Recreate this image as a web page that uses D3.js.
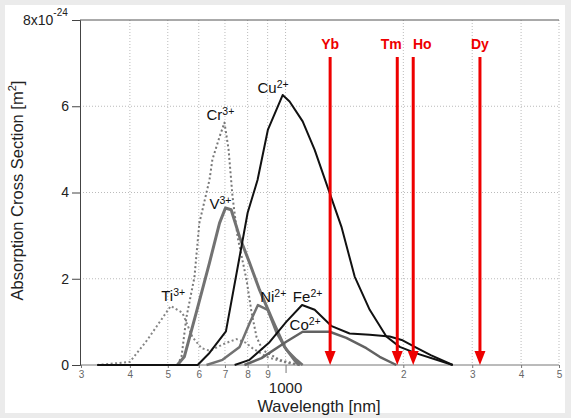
<!DOCTYPE html>
<html>
<head>
<meta charset="utf-8">
<script src="https://cdn.jsdelivr.net/npm/d3@7"></script>
<style>
  body { margin: 0; background: #ebebeb; }
  svg { display: block; font-family: "Liberation Sans", Arial, sans-serif; }
</style>
</head>
<body>
<div id="chart"></div>
<script>
// chart size
const width = 571, height = 418;

// data (wavelength in nm, cross section in 1e-24 m^2)
const tiWl  = [330, 400, 443, 509, 545, 578, 610, 640, 700, 749, 790, 823, 894, 1006, 1090];
const tiVal = [0, 0.07, 0.58, 1.37, 1.21, 0.65, 0.39, 0.33, 0.5, 0.6, 0.52, 0.39, 0.19, 0.05, 0];

const crWl  = [529, 542, 558, 585, 602, 639, 650, 678, 698, 715, 732, 754, 795, 819, 843, 873, 965, 1086];
const crVal = [0, 0.19, 1.11, 2.04, 3.29, 4.29, 4.76, 5.29, 5.62, 5.0, 3.9, 2.97, 1.97, 1.21, 0.65, 0.35, 0.12, 0];

const vWl   = [529, 551, 591, 639, 678, 702, 726, 763, 809, 858, 926, 994, 1067, 1088];
const vVal  = [0, 0.19, 1.21, 2.37, 3.29, 3.64, 3.6, 2.97, 2.37, 1.74, 1.04, 0.42, 0.05, 0];

const niWl  = [628, 690, 763, 809, 850, 900, 949, 1006, 1067, 1106];
const niVal = [0, 0.12, 0.42, 0.97, 1.39, 1.28, 0.74, 0.35, 0.12, 0];

const coWl  = [785, 868, 1004, 1106, 1296, 1430, 1609, 1740, 1920];
const coVal = [0, 0.16, 0.54, 0.77, 0.77, 0.63, 0.39, 0.19, 0];

const feWl  = [741, 809, 910, 1004, 1102, 1187, 1312, 1458, 1641, 1846, 1981, 2139, 2350, 2675];
const feVal = [0, 0.12, 0.53, 1.0, 1.39, 1.28, 0.9, 0.73, 0.7, 0.66, 0.58, 0.42, 0.23, 0];

const cuWl  = [330, 596, 639, 704, 763, 800, 848, 901, 983, 1024, 1106, 1187, 1296, 1389, 1502, 1641, 1810, 1958, 2160, 2431, 2675];
const cuVal = [0, 0, 0.28, 0.78, 2.51, 3.53, 4.29, 5.45, 6.26, 6.11, 5.65, 4.99, 3.99, 3.21, 2.05, 1.28, 0.66, 0.42, 0.27, 0.12, 0];

// rare earth laser lines
const laserWl    = [1300, 1930, 2120, 3140];
const laserNames = ["Yb", "Tm", "Ho", "Dy"];

// axis ticks
const xTicks      = [300, 400, 500, 600, 700, 800, 900, 1000, 2000, 3000, 4000, 5000];
const xTickLabels = ["3", "4", "5", "6", "7", "8", "9", "", "2", "3", "4", "5"];
const yTicks      = [0, 2, 4, 6, 8];

// ion labels: name, charge, anchor point (wavelength, value) of the label's left baseline
const ionNames   = ["Cu", "Cr", "V", "Ti", "Ni", "Fe", "Co"];
const ionCharges = ["2+", "3+", "3+", "3+", "2+", "2+", "2+"];
const ionLabelWl = [848, 628, 639, 481, 861, 1044, 1024];
const ionLabelY  = [6.31, 5.67, 3.62, 1.49, 1.47, 1.47, 0.81];

const svg = d3.select("#chart").append("svg")
  .attr("width", width).attr("height", height);

svg.append("rect").attr("x", 5).attr("y", 5)
  .attr("width", 560).attr("height", 408).attr("fill", "#fff");

const x = d3.scaleLog().domain([300, 5000]).range([81, 559]);
const y = d3.scaleLinear().domain([0, 8]).range([365, 20]);

// grid
const grid = svg.append("g");
grid.selectAll(".vg").data(xTicks.slice(1)).enter().append("line")
  .attr("x1", d => x(d)).attr("x2", d => x(d))
  .attr("y1", y(8)).attr("y2", y(0))
  .attr("stroke", "#bbb").attr("stroke-width", 1).attr("stroke-dasharray", "1,2");
grid.selectAll(".hg").data([2, 4, 6]).enter().append("line")
  .attr("x1", 80).attr("x2", 559)
  .attr("y1", d => y(d)).attr("y2", d => y(d))
  .attr("stroke", "#bbb").attr("stroke-width", 1).attr("stroke-dasharray", "1,2");
svg.append("line").attr("x1", 80).attr("x2", 559).attr("y1", y(8)).attr("y2", y(8))
  .attr("stroke", "#555").attr("stroke-width", 1);

// x axis
const xAxis = d3.axisBottom(x).tickValues(xTicks)
  .tickSize(3).tickPadding(3)
  .tickFormat((d, i) => xTickLabels[i]);
const xAxisG = svg.append("g").attr("transform", `translate(0,${y(0)})`).call(xAxis);
xAxisG.select(".domain").attr("stroke", "#777").attr("d", "M80,0H559");
xAxisG.selectAll(".tick line").attr("stroke", "#777");
xAxisG.selectAll(".tick").filter(d => d === 1000).select("line").attr("y2", 8);
xAxisG.selectAll(".tick text").attr("fill", "#666").style("font-size", "10px")
  .style("font-family", "Liberation Sans, Arial, sans-serif");

svg.append("text").attr("x", x(1000)).attr("y", 393)
  .attr("text-anchor", "middle").style("font-size", "15px").attr("fill", "#222")
  .text("1000");
svg.append("text").attr("x", 319).attr("y", 412)
  .attr("text-anchor", "middle").style("font-size", "16.5px").attr("fill", "#222")
  .text("Wavelength [nm]");

// y axis
const yAxis = d3.axisLeft(y).tickValues(yTicks)
  .tickSize(8).tickPadding(3)
  .tickFormat(d => d === 8 ? "" : d);
const yAxisG = svg.append("g").attr("transform", "translate(80,0)").call(yAxis);
yAxisG.select(".domain").attr("stroke", "#444");
yAxisG.selectAll(".tick line").attr("stroke", "#444");
yAxisG.selectAll(".tick text").attr("fill", "#222").style("font-size", "14px")
  .style("font-family", "Liberation Sans, Arial, sans-serif");

const topLabel = svg.append("text").attr("x", 23).attr("y", 25)
  .style("font-size", "14px").attr("fill", "#222");
topLabel.append("tspan").text("8x10");
topLabel.append("tspan").attr("dy", -9).style("font-size", "10px").text("-24");

const yTitle = svg.append("text")
  .attr("transform", `translate(23,${y(4) - 2}) rotate(-90)`)
  .attr("text-anchor", "middle").style("font-size", "16.5px").attr("fill", "#222");
yTitle.append("tspan").text("Absorption Cross Section [m");
yTitle.append("tspan").attr("dy", -7).style("font-size", "11px").text("2");
yTitle.append("tspan").attr("dy", 7).text("]");

// curves
const line = d3.line().x(d => x(d[0])).y(d => y(d[1]));
const pts = (wl, val) => wl.map((w, i) => [w, val[i]]);

const series = [
  {wl: tiWl, val: tiVal, color: "#858585", w: 2, dash: "2,2.5"},
  {wl: crWl, val: crVal, color: "#777", w: 2, dash: "2,2.5"},
  {wl: vWl, val: vVal, color: "#727272", w: 3, dash: null},
  {wl: niWl, val: niVal, color: "#727272", w: 2.5, dash: null},
  {wl: coWl, val: coVal, color: "#626262", w: 2.5, dash: null},
  {wl: feWl, val: feVal, color: "#111", w: 2, dash: null},
  {wl: cuWl, val: cuVal, color: "#111", w: 2, dash: null}
];

svg.append("g").selectAll("path").data(series).enter().append("path")
  .attr("d", d => line(pts(d.wl, d.val)))
  .attr("fill", "none")
  .attr("stroke", d => d.color)
  .attr("stroke-width", d => d.w)
  .attr("stroke-linejoin", "round")
  .attr("stroke-dasharray", d => d.dash);

// ion labels
const lab = svg.append("g").selectAll("text").data(ionNames).enter().append("text")
  .attr("x", (d, i) => x(ionLabelWl[i])).attr("y", (d, i) => y(ionLabelY[i]))
  .style("font-size", "15px").attr("fill", "#111");
lab.append("tspan").text(d => d);
lab.append("tspan").attr("dy", -5).style("font-size", "10.5px").text((d, i) => ionCharges[i]);

// red arrows, labels of the close Tm / Ho pair pushed apart
const labelShift = [0, -6, 9, 0];
const arrows = svg.append("g").selectAll("g").data(laserWl).enter().append("g")
  .attr("transform", d => `translate(${x(d)},0)`);
arrows.append("line").attr("x1", 0).attr("x2", 0)
  .attr("y1", 57).attr("y2", y(0) - 10)
  .attr("stroke", "#ee0000").attr("stroke-width", 3);
arrows.append("path")
  .attr("d", `M-5.5,${y(0) - 14}L5.5,${y(0) - 14}L0,${y(0)}Z`)
  .attr("fill", "#ee0000");
arrows.append("text").attr("x", (d, i) => labelShift[i]).attr("y", 49)
  .attr("text-anchor", "middle")
  .style("font-size", "14px").style("font-weight", "bold").attr("fill", "#ee0000")
  .text((d, i) => laserNames[i]);
</script>
</body>
</html>
